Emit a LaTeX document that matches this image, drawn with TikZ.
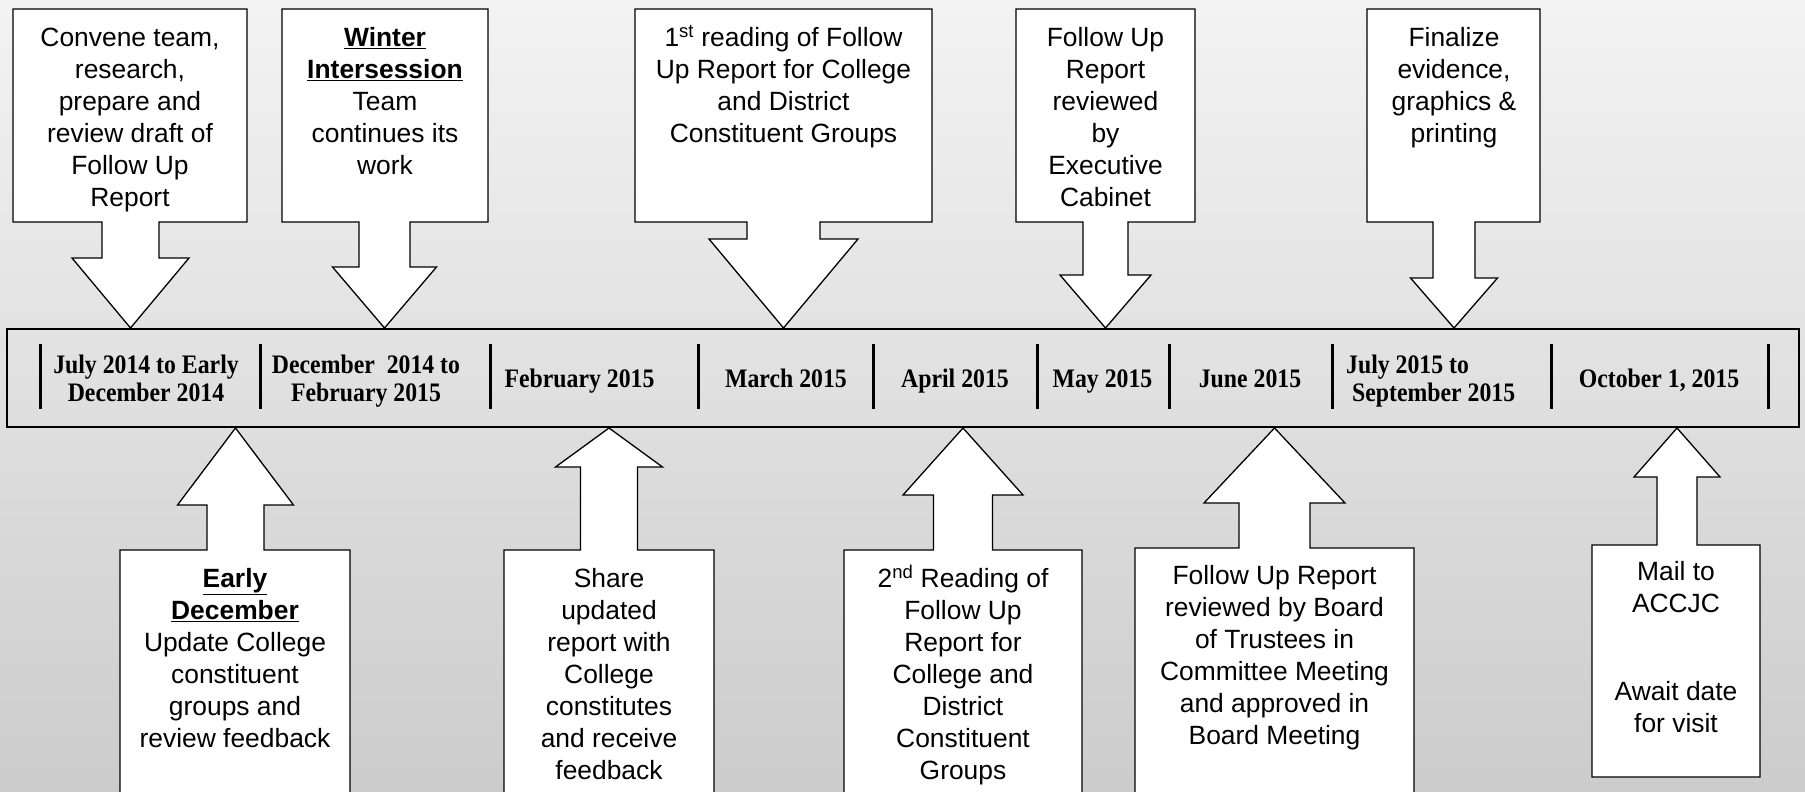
\documentclass[tikz,border=0pt]{standalone}
\usepackage{fontspec}
\setmainfont{Liberation Sans}
\newfontfamily\datefont[FakeStretch=0.89]{Liberation Serif}

\definecolor{bgtop}{RGB}{243,243,243}
\definecolor{bgmid}{RGB}{233,233,233}
\definecolor{bgbot}{RGB}{204,204,204}

% Block-arrow callout: box from x=#1 to #2, box edge facing the arrow at y=#3,
% far edge at y=#4, arrow centred on x=#5 with shaft half width #6,
% head base at y=#7, head half width #8, tip at y=#9.
\newcommand\callshape[9]{%
  \path[callout] (#1,#4) -- (#2,#4) -- (#2,#3) -- ({#5+#6},#3) -- ({#5+#6},#7)
    -- ({#5+#8},#7) -- (#5,#9) -- ({#5-#8},#7) -- ({#5-#6},#7) -- ({#5-#6},#3)
    -- (#1,#3) -- cycle;}

\tikzset{
  callout/.style={draw=black, fill=white, line width=1.3pt, line join=miter},
  calltext/.style={font=\fontsize{26.4}{32}\selectfont, align=center,
    inner sep=0pt, anchor=north},
  datetext/.style={font=\datefont\bfseries\fontsize{26.7}{28}\selectfont,
    inner sep=0pt},
  divider/.style={line width=3pt},
  timeline/.style={line width=2.7pt},
}

\begin{document}
\begin{tikzpicture}[x=1pt, y=-1pt]
\useasboundingbox (0,0) rectangle (1805,792);
\begin{scope}
\clip (0,0) rectangle (1805,792);
\shade[top color=bgtop, middle color=bgmid, bottom color=bgbot]
  (0,0) rectangle (1805,792);

% callouts above the timeline
\callshape{13}{247}{222}{9}{130.5}{28.5}{258}{58.5}{328}
\callshape{282}{488}{222}{9}{384.5}{25.5}{267}{52}{328}
\callshape{635}{932}{222}{9}{783.5}{36.5}{239}{74.5}{328}
\callshape{1016}{1195}{222}{9}{1105.5}{22.5}{275}{45.5}{328}
\callshape{1367}{1540}{222}{9}{1454}{21}{278}{43.5}{328}

% callouts below the timeline
\callshape{120}{350}{550}{810}{235.5}{28.5}{505}{58}{428}
\callshape{504}{714}{550}{810}{609}{28.5}{467}{53.5}{428}
\callshape{844}{1082}{550}{810}{963}{29.5}{495}{60}{428}
\callshape{1135}{1414}{548}{810}{1274.5}{35.5}{503}{70.5}{428}
\callshape{1592}{1760}{545}{777}{1677}{20}{477}{43}{428}

% timeline bar with its dividers
\draw[timeline] (7,329) rectangle (1799,427);
\foreach \dx in {40,260,490,698,873,1037,1169,1332,1551,1768}
  \draw[divider] (\dx,344) -- (\dx,409);

% period labels
\node[datetext, anchor=north, align=center] (d1) at (146,353.4)
  {\strut July 2014 to Early\\December 2014};
\node[datetext, anchor=north, align=center] (d2) at (366,353.4)
  {\strut December\ \ 2014 to\\February 2015};
\node[datetext, anchor=base] (d3) at (579.5,387) {February 2015};
\node[datetext, anchor=base] (d4) at (786,387) {March 2015};
\node[datetext, anchor=base] (d5) at (955,387) {April 2015};
\node[datetext, anchor=base] (d6) at (1102.5,387) {May 2015};
\node[datetext, anchor=base] (d7) at (1250,387) {June 2015};
\node[datetext, anchor=north west, align=left] (d8) at (1346,353.4)
  {\strut July 2015 to\\\hspace*{6pt}September 2015};
\node[datetext, anchor=base] (d9) at (1659,387) {October 1, 2015};

% callout texts
\node[calltext] (c1) at (130,23.5)
  {\strut Convene team,\\research,\\prepare and\\review draft of\\Follow Up\\Report};
\node[calltext] (c2) at (385,23.5)
  {\strut\underline{\textbf{Winter}}\\\underline{\textbf{Intersession}}\\Team\\continues its\\work};
\node[calltext] (c3) at (783.5,23.5)
  {\strut 1\textsuperscript{st} reading of Follow\\Up Report for College\\and District\\Constituent Groups};
\node[calltext] (c4) at (1105.5,23.5)
  {\strut Follow Up\\Report\\reviewed\\by\\Executive\\Cabinet};
\node[calltext] (c5) at (1454,23.5)
  {\strut Finalize\\evidence,\\graphics \&\\printing};

\node[calltext] (c6) at (235,564.5)
  {\strut\underline{\textbf{Early}}\\\underline{\textbf{December}}\\Update College\\constituent\\groups and\\review feedback};
\node[calltext] (c7) at (609,564.5)
  {\strut Share\\updated\\report with\\College\\constitutes\\and receive\\feedback};
\node[calltext] (c8) at (963,564.5)
  {\strut 2\textsuperscript{nd} Reading of\\Follow Up\\Report for\\College and\\District\\Constituent\\Groups};
\node[calltext] (c9) at (1274.5,562)
  {\strut Follow Up Report\\reviewed by Board\\of Trustees in\\Committee Meeting\\and approved in\\Board Meeting};
\node[calltext] (c10) at (1676,557.6)
  {\strut Mail to\\ACCJC\\[56pt]Await date\\for visit};
\end{scope}
\end{tikzpicture}
\end{document}
